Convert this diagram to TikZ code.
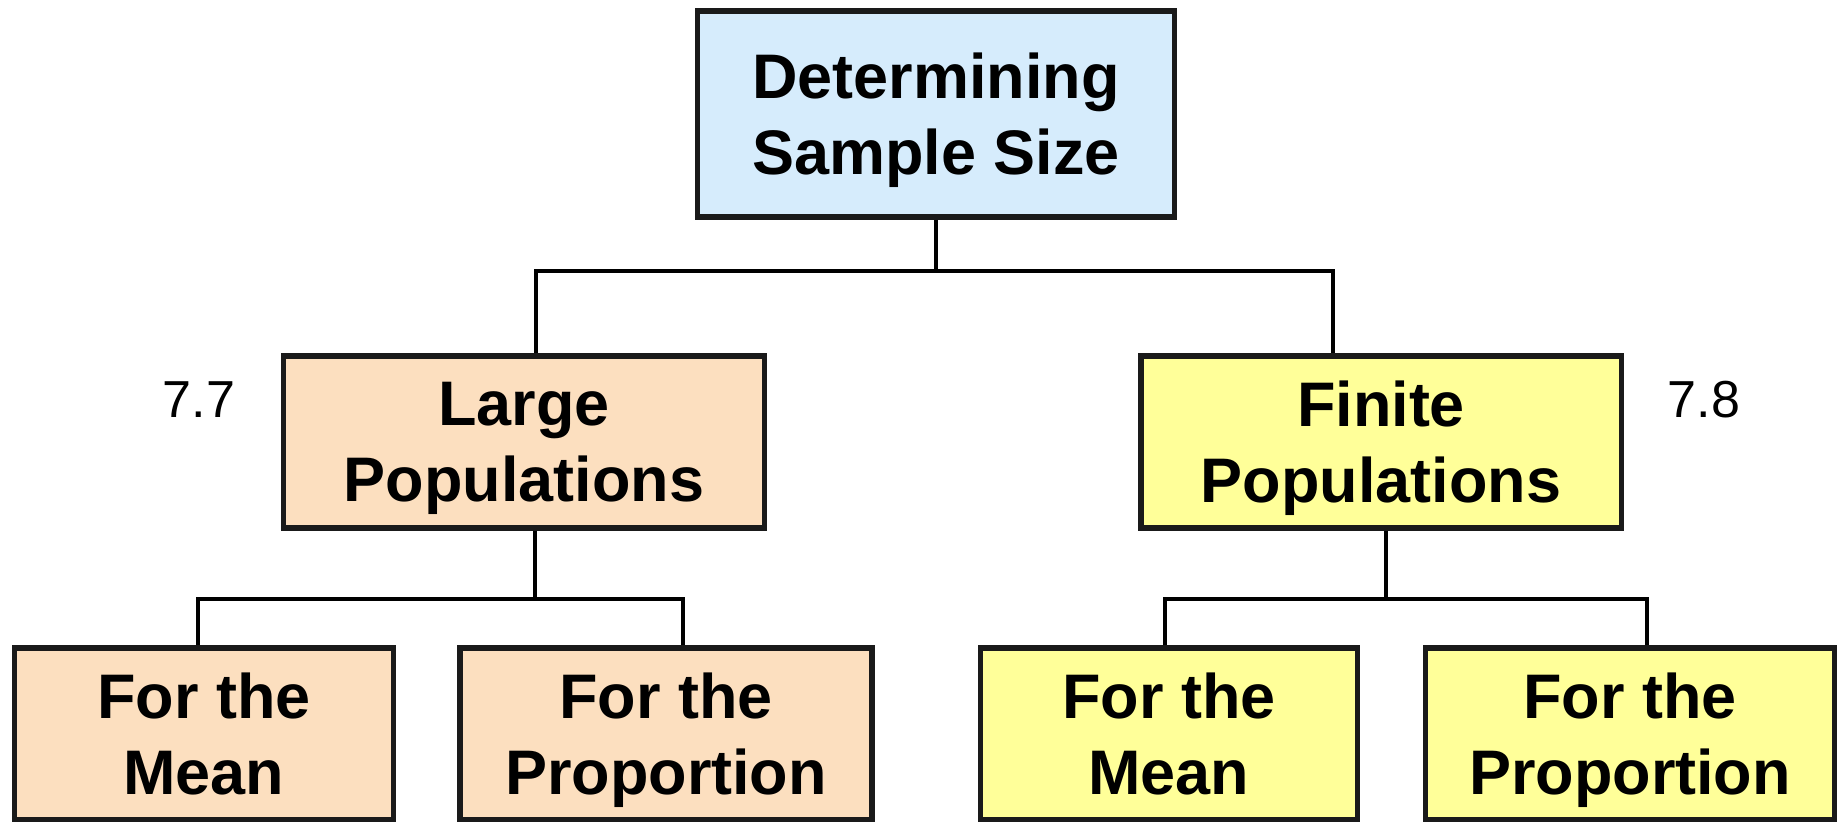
\documentclass[tikz,border=0pt]{standalone}
\usepackage{fontspec}
\setmainfont{Liberation Sans}
\definecolor{boxblue}{RGB}{214,236,252}
\definecolor{boxpeach}{RGB}{252,223,191}
\definecolor{boxyellow}{RGB}{255,255,153}
\definecolor{boxline}{RGB}{26,26,26}
\begin{document}
\begin{tikzpicture}[x=0.01cm,y=-0.01cm]

      \path[use as bounding box,clip] (0,0) rectangle (1839,821);

      \begin{scope}[every node/.style={rectangle,draw=boxline,line width=1.5pt,align=center,
          font=\bfseries\fontsize{17.9}{21.6}\selectfont,inner sep=0pt}]
        \node[fill=boxblue,minimum width=4.77cm,minimum height=2.06cm] (det) at (936,114) {Determining\\\smash{Sample Size}};
        \node[fill=boxpeach,minimum width=4.81cm,minimum height=1.72cm] (large) at (524,442) {Large\\\smash{Populations}};
        \node[fill=boxyellow,minimum width=4.80cm,minimum height=1.72cm] (finite) at (1381,442) {Finite\\\smash{Populations}};
        \node[fill=boxpeach,minimum width=3.79cm,minimum height=1.72cm] (lmean) at (204,734) {For the\\\smash{Mean}};
        \node[fill=boxpeach,minimum width=4.12cm,minimum height=1.72cm] (lprop) at (666,734) {For the\\\smash{Proportion}};
        \node[fill=boxyellow,minimum width=3.77cm,minimum height=1.72cm] (rmean) at (1169,734) {For the\\\smash{Mean}};
        \node[fill=boxyellow,minimum width=4.09cm,minimum height=1.72cm] (rprop) at (1630,734) {For the\\\smash{Proportion}};
      \end{scope}

      \begin{scope}[every node/.style={font=\fontsize{14.8}{18}\selectfont}]
        \node (sec77) at (199,400) {7.7};
        \node (sec78) at (1704,400) {7.8};
      \end{scope}

      \coordinate (tl) at (536,271);
      \coordinate (tr) at (1333,271);
      \coordinate (lj) at (535,599);
      \coordinate (ll) at (198,599);
      \coordinate (lr) at (683,599);
      \coordinate (rj) at (1386,599);
      \coordinate (rl) at (1165,599);
      \coordinate (rr) at (1647,599);

      \begin{scope}[line width=1.3pt]
        \draw (det.south) -- (det.south |- tl);
        \draw (tl |- large.north) -- (tl) -- (tr) -- (tr |- finite.north);
        \draw (lj |- large.south) -- (lj);
        \draw (ll |- lmean.north) -- (ll) -- (lr) -- (lr |- lprop.north);
        \draw (rj |- finite.south) -- (rj);
        \draw (rl |- rmean.north) -- (rl) -- (rr) -- (rr |- rprop.north);
      \end{scope}

    \end{tikzpicture}
\end{document}
